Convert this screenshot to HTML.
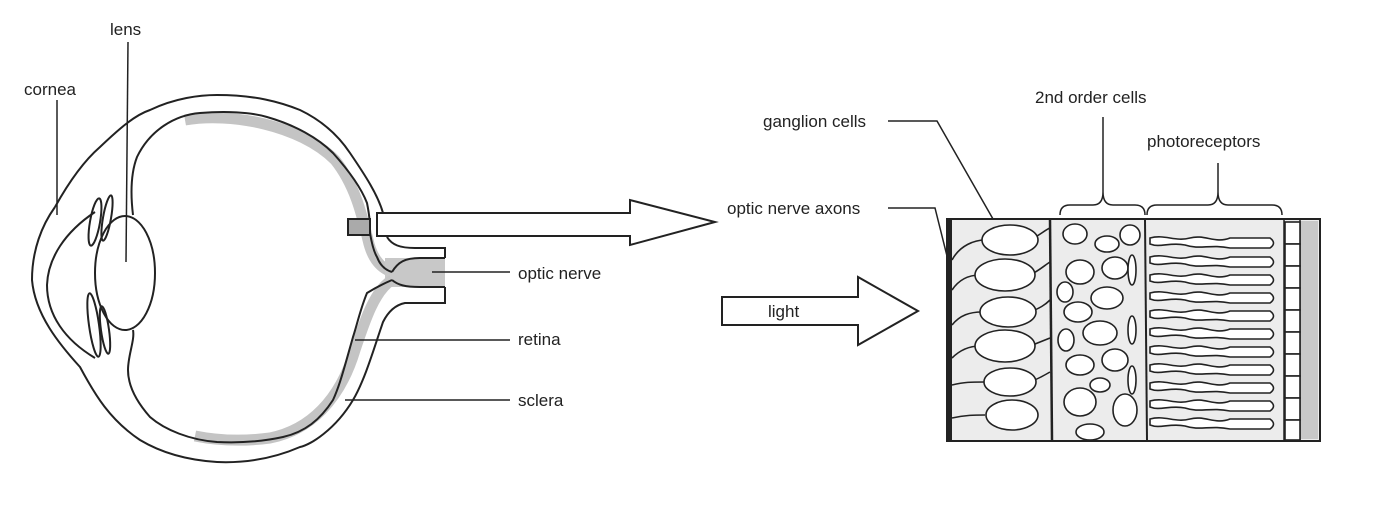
<!DOCTYPE html>
<html><head><meta charset="utf-8"><style>
html,body{margin:0;padding:0;background:#fff;}
svg{display:block}
text{font-family:"Liberation Sans",sans-serif;font-size:17px;fill:#222}
</style></head><body>
<svg width="1374" height="516" viewBox="0 0 1374 516" xmlns="http://www.w3.org/2000/svg">
<g fill="none" stroke="#222" stroke-width="2">
<!-- retina gray band (inside inner contour) -->
<path d="M185,120 C230,112 300,125 335,160 C355,185 362,215 368,240 C372,258 380,268 392,272 L444,272" stroke="#c4c4c4" stroke-width="11"/>
<rect x="385" y="258" width="60" height="29" fill="#c8c8c8" stroke="none"/>
<path d="M392,280 C375,290 365,320 355,350 C340,400 310,430 270,438 C240,442 215,440 195,436" stroke="#c4c4c4" stroke-width="11"/>
<!-- outer sclera -->
<path d="M55,207 C70,180 85,160 100,147 C120,128 135,115 150,110 C175,98 200,95 217,95 C255,95 280,102 300,110 C325,122 340,138 350,153 C365,175 378,195 383,213 L387,237"/>
<path d="M387,237 C392,245 400,248 415,248 L445,248 L445,258"/>
<path d="M445,287 L445,303 L405,303 C395,305 388,312 383,322 C375,345 365,380 353,400 C335,430 310,445 300,447 C270,460 240,463 217,462 C185,460 160,452 140,440 C110,420 95,395 80,367 C60,345 35,315 32,280 C32,250 42,225 55,207"/>
<!-- cornea inner -->
<path d="M95,212 C65,232 48,258 47,285 C47,315 65,340 95,358"/>
<!-- inner retina contour -->
<path d="M133,215 C130,190 132,170 137,157 C150,130 175,115 200,113 C225,111 250,112 267,117 C295,125 318,138 333,153 C350,172 362,190 367,203 C370,218 370,225 370,233 C372,245 374,252 377,257 C380,265 385,270 392,272"/>
<path d="M392,280 C385,283 375,288 367,293 C360,310 357,325 353,337 C345,365 340,385 333,400 C320,420 305,432 283,437 C260,442 237,443 217,442 C190,440 165,430 150,417 C135,400 128,385 128,370 C128,355 135,340 133,330"/>
<!-- nerve sheath inner lines -->
<path d="M392,272 C398,262 405,258 420,258 L445,258"/>
<path d="M392,280 C398,285 405,287 420,287 L445,287"/>
<!-- lens -->
<ellipse cx="125" cy="273" rx="30" ry="57"/>
<!-- iris -->
<ellipse cx="95" cy="222" rx="5" ry="24" transform="rotate(10 95 222)"/>
<ellipse cx="107" cy="218" rx="4" ry="23" transform="rotate(10 107 218)"/>
<ellipse cx="94" cy="325" rx="5" ry="32" transform="rotate(-8 94 325)"/>
<ellipse cx="105" cy="330" rx="4" ry="24" transform="rotate(-8 105 330)"/>
<!-- small square -->
<rect x="348" y="219" width="22" height="16" fill="#aaa"/>
<!-- big arrow -->
<path d="M377,213 L630,213 L630,200 L715,222 L630,245 L630,236 L377,236 Z" fill="#fff"/>
<!-- light arrow -->
<path d="M722,297 L858,297 L858,277 L918,311 L858,345 L858,325 L722,325 Z" fill="#fff"/>
<!-- leader lines -->
<path d="M128,42 L126,262" stroke-width="1.5"/>
<path d="M57,100 L57,215" stroke-width="1.5"/>
<path d="M432,272 L510,272" stroke-width="1.5"/>
<path d="M355,340 L510,340" stroke-width="1.5"/>
<path d="M345,400 L510,400" stroke-width="1.5"/>
<path d="M888,121 L937,121 L1005,240" stroke-width="1.5"/>
<path d="M888,208 L935,208 L950,268" stroke-width="1.5"/>
<!-- braces -->
<path d="M1060,215 Q1060,205 1070,205 L1093,205 Q1103,205 1103,192 L1103,117 M1103,192 Q1103,205 1113,205 L1135,205 Q1145,205 1145,215" stroke-width="1.5"/>
<path d="M1147,215 Q1147,205 1157,205 L1208,205 Q1218,205 1218,192 L1218,163 M1218,192 Q1218,205 1228,205 L1272,205 Q1282,205 1282,215" stroke-width="1.5"/>
<!-- retina box -->
<rect x="947" y="219" width="373" height="222" fill="#ececec"/>
<rect x="1300" y="221" width="18" height="218" fill="#c8c8c8" stroke="none"/>
<line x1="950" y1="220" x2="950" y2="440" stroke-width="4"/>
<line x1="1050" y1="220" x2="1052" y2="440" stroke-width="2.5"/>
<line x1="1145" y1="220" x2="1147" y2="440" stroke-width="2"/>
<line x1="1284" y1="220" x2="1284" y2="440" stroke-width="1.5"/>
<line x1="1300" y1="220" x2="1300" y2="440" stroke-width="1.5"/>
<!-- ganglion connections -->
<g stroke-width="1.6">
<path d="M952,260 C960,245 975,240 985,240"/>
<path d="M952,290 C960,278 970,275 980,275"/>
<path d="M952,325 C960,315 970,312 982,312"/>
<path d="M952,358 C960,350 970,346 980,346"/>
<path d="M952,385 C965,382 970,382 985,382"/>
<path d="M952,418 C965,415 975,415 985,415"/>
<path d="M1030,240 C1040,235 1045,230 1050,228"/>
<path d="M1030,275 C1040,270 1045,265 1050,262"/>
<path d="M1030,312 C1040,308 1045,305 1050,300"/>
<path d="M1030,346 C1040,342 1045,340 1050,338"/>
<path d="M1030,382 C1040,378 1045,375 1050,372"/>
</g>
</g>
<g fill="#fff" stroke="#222" stroke-width="1.6">
<!-- ganglion cells -->
<ellipse cx="1010" cy="240" rx="28" ry="15"/>
<ellipse cx="1005" cy="275" rx="30" ry="16"/>
<ellipse cx="1008" cy="312" rx="28" ry="15"/>
<ellipse cx="1005" cy="346" rx="30" ry="16"/>
<ellipse cx="1010" cy="382" rx="26" ry="14"/>
<ellipse cx="1012" cy="415" rx="26" ry="15"/>
<!-- 2nd order -->
<ellipse cx="1075" cy="234" rx="12" ry="10"/><ellipse cx="1107" cy="244" rx="12" ry="8"/><ellipse cx="1130" cy="235" rx="10" ry="10"/>
<ellipse cx="1080" cy="272" rx="14" ry="12"/><ellipse cx="1115" cy="268" rx="13" ry="11"/><ellipse cx="1132" cy="270" rx="4" ry="15"/>
<ellipse cx="1065" cy="292" rx="8" ry="10"/><ellipse cx="1107" cy="298" rx="16" ry="11"/>
<ellipse cx="1078" cy="312" rx="14" ry="10"/><ellipse cx="1100" cy="333" rx="17" ry="12"/><ellipse cx="1132" cy="330" rx="4" ry="14"/>
<ellipse cx="1066" cy="340" rx="8" ry="11"/><ellipse cx="1080" cy="365" rx="14" ry="10"/><ellipse cx="1115" cy="360" rx="13" ry="11"/>
<ellipse cx="1100" cy="385" rx="10" ry="7"/><ellipse cx="1132" cy="380" rx="4" ry="14"/>
<ellipse cx="1080" cy="402" rx="16" ry="14"/><ellipse cx="1125" cy="410" rx="12" ry="16"/><ellipse cx="1090" cy="432" rx="14" ry="8"/>
<!-- photoreceptors -->
<g id="pr"><path d="M1150,238 C1165,234 1175,242 1190,238 C1205,234 1215,244 1230,238 L1270,238 Q1277,243 1270,248 L1230,248 C1210,244 1200,250 1185,245 C1170,242 1160,248 1150,244 Z"/></g>
<use href="#pr" y="19"/><use href="#pr" y="37"/><use href="#pr" y="55"/><use href="#pr" y="73"/>
<use href="#pr" y="91"/><use href="#pr" y="109"/><use href="#pr" y="127"/><use href="#pr" y="145"/>
<use href="#pr" y="163"/><use href="#pr" y="181"/>
<!-- epithelium -->
<rect x="1285" y="222" width="15" height="22"/><rect x="1285" y="244" width="15" height="22"/>
<rect x="1285" y="266" width="15" height="22"/><rect x="1285" y="288" width="15" height="22"/>
<rect x="1285" y="310" width="15" height="22"/><rect x="1285" y="332" width="15" height="22"/>
<rect x="1285" y="354" width="15" height="22"/><rect x="1285" y="376" width="15" height="22"/>
<rect x="1285" y="398" width="15" height="22"/><rect x="1285" y="420" width="15" height="20"/>
</g>
<text x="110" y="35">lens</text>
<text x="24" y="95">cornea</text>
<text x="518" y="279">optic nerve</text>
<text x="518" y="345">retina</text>
<text x="518" y="406">sclera</text>
<text x="768" y="317">light</text>
<text x="763" y="127">ganglion cells</text>
<text x="727" y="214">optic nerve axons</text>
<text x="1035" y="103">2nd order cells</text>
<text x="1147" y="147">photoreceptors</text>
</svg>
</body></html>
